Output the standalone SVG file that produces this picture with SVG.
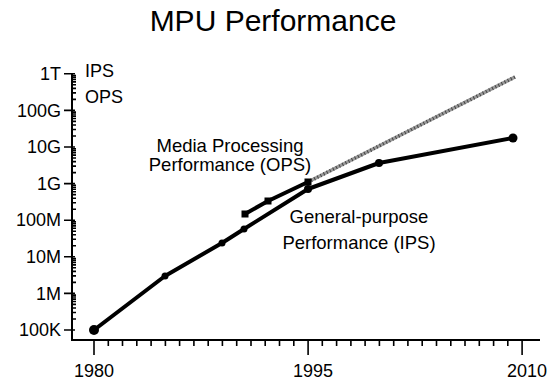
<svg xmlns="http://www.w3.org/2000/svg" width="550" height="381" viewBox="0 0 550 381">
<style>
  text { font-family: "Liberation Sans", Arial, sans-serif; fill: #000; }
  .title { font-size: 30px; text-anchor: middle; }
  .ylab { font-size: 18px; text-anchor: end; }
  .xlab { font-size: 18px; text-anchor: middle; }
  .lab { font-size: 18.5px; text-anchor: middle; }
  .axis { stroke: #000; stroke-width: 2; fill: none; }
  .tick { stroke: #000; stroke-width: 1.6; fill: none; }
  .data { stroke: #000; stroke-width: 4; fill: none; stroke-linejoin: round; stroke-linecap: round; }
</style>
<rect width="550" height="381" fill="#fff"/>
<text class="title" x="273" y="31">MPU Performance</text>

<g id="y-axis">
  <line class="axis" x1="72" y1="73" x2="72" y2="341"/>
  <path class="tick" d="M64,73.8H75 M64,110.4H75 M64,147H75 M64,183.6H75 M64,220.2H75 M64,256.8H75 M64,293.4H75 M64,330H75"/>
  <path class="tick" stroke-width="1.3" d="M72,319H76 M72,312.5H76 M72,308H76 M72,304.4H76 M72,301.5H76 M72,299.1H76 M72,297H76 M72,295.1H76
    M72,282.4H76 M72,275.9H76 M72,271.4H76 M72,267.8H76 M72,264.9H76 M72,262.5H76 M72,260.4H76 M72,258.5H76
    M72,245.8H76 M72,239.3H76 M72,234.8H76 M72,231.2H76 M72,228.3H76 M72,225.9H76 M72,223.8H76 M72,221.9H76
    M72,209.2H76 M72,202.7H76 M72,198.2H76 M72,194.6H76 M72,191.7H76 M72,189.3H76 M72,187.2H76 M72,185.3H76
    M72,172.6H76 M72,166.1H76 M72,161.6H76 M72,158H76 M72,155.1H76 M72,152.7H76 M72,150.6H76 M72,148.7H76
    M72,136H76 M72,129.5H76 M72,125H76 M72,121.4H76 M72,118.5H76 M72,116.1H76 M72,114H76 M72,112.1H76
    M72,99.4H76 M72,92.9H76 M72,88.4H76 M72,84.8H76 M72,81.9H76 M72,79.5H76 M72,77.4H76 M72,75.5H76"/>
  <text class="ylab" x="61" y="80">1T</text>
  <text class="ylab" x="61" y="117">100G</text>
  <text class="ylab" x="61" y="153">10G</text>
  <text class="ylab" x="61" y="190">1G</text>
  <text class="ylab" x="61" y="226">100M</text>
  <text class="ylab" x="61" y="263">10M</text>
  <text class="ylab" x="61" y="300">1M</text>
  <text class="ylab" x="61" y="336">100K</text>
  <text x="85" y="77" style="font-size:18px">IPS</text>
  <text x="85" y="103" style="font-size:18px">OPS</text>
</g>

<g id="x-axis">
  <line class="axis" x1="71" y1="340" x2="540" y2="340"/>
  <path class="tick" d="M94,340V355 M308.1,340V355 M522.1,340V355"/>
  <path class="tick" d="M108.3,340V346 M122.5,340V346 M136.8,340V346 M151.1,340V346 M165.4,340V346 M179.6,340V346 M193.9,340V346 M208.2,340V346 M222.4,340V346 M236.7,340V346 M251,340V346 M265.2,340V346 M279.5,340V346 M293.8,340V346
    M322.3,340V346 M336.6,340V346 M350.9,340V346 M365.1,340V346 M379.4,340V346 M393.7,340V346 M407.9,340V346 M422.2,340V346 M436.5,340V346 M450.8,340V346 M465,340V346 M479.3,340V346 M493.6,340V346 M507.8,340V346"/>
  <text class="xlab" x="94" y="377">1980</text>
  <text class="xlab" x="313" y="377">1995</text>
  <text class="xlab" x="527" y="377">2010</text>
</g>

<g id="ops-series">
  <line x1="308" y1="182" x2="515" y2="77" stroke="#9a9a9a" stroke-width="3.5"/>
  <line x1="308" y1="182" x2="515" y2="77" stroke="#444" stroke-width="3.5" stroke-dasharray="1 2.5"/>
  <path class="data" d="M245,214 L268,201 L308,182"/>
  <rect x="241.5" y="210.5" width="7" height="7" fill="#000"/>
  <rect x="264.5" y="197.5" width="7" height="7" fill="#000"/>
  <rect x="304.5" y="178.5" width="7" height="7" fill="#000"/>
  <text class="lab" x="230" y="152">Media Processing</text>
  <text class="lab" x="230" y="171">Performance (OPS)</text>
</g>

<g id="ips-series">
  <path class="data" d="M94,330 L165,276 L222,243 L244,229 L308,189 L379,163 L513,138"/>
  <circle cx="94" cy="330" r="5" fill="#000"/>
  <circle cx="165" cy="276" r="3.5" fill="#000"/>
  <circle cx="222" cy="243" r="3.5" fill="#000"/>
  <circle cx="244" cy="229" r="3.5" fill="#000"/>
  <circle cx="308" cy="189" r="4" fill="#000"/>
  <circle cx="379" cy="163" r="4" fill="#000"/>
  <circle cx="513" cy="138" r="4.5" fill="#000"/>
  <text class="lab" x="359" y="223">General-purpose</text>
  <text class="lab" x="359" y="249">Performance (IPS)</text>
</g>
</svg>
